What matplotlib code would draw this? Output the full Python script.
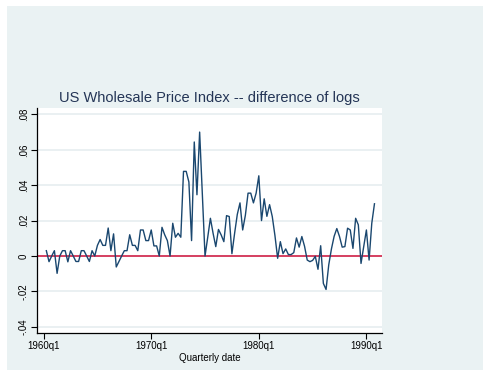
import numpy as np
import matplotlib
matplotlib.use("Agg")
import matplotlib.pyplot as plt
from matplotlib.patches import Rectangle

plt.rcParams['font.family'] = ['Liberation Sans', 'DejaVu Sans']

# D.ln_wpi, 1960q2 .. 1990q4 (quarter numbers with 1960q1 = 0)
quarter = np.arange(1, 124)
dln_wpi = [
    0.0030, -0.0032, 0.0000, 0.0030, -0.0098, 0.0000, 0.0030, 0.0030, -0.0033, 0.0030,
    0.0000, -0.0031, -0.0031, 0.0030, 0.0030, 0.0000, -0.0031, 0.0030, 0.0000, 0.0060,
    0.0093, 0.0060, 0.0060, 0.0158, 0.0030, 0.0125, -0.0062, -0.0031, 0.0000, 0.0030,
    0.0030, 0.0120, 0.0060, 0.0060, 0.0030, 0.0147, 0.0147, 0.0087, 0.0087, 0.0147,
    0.0057, 0.0057, 0.0000, 0.0162, 0.0120, 0.0087, 0.0000, 0.0185, 0.0106, 0.0128,
    0.0106, 0.0478, 0.0478, 0.0418, 0.0087, 0.0644, 0.0346, 0.0700, 0.0350, 0.0000,
    0.0105, 0.0213, 0.0128, 0.0053, 0.0150, 0.0119, 0.0081, 0.0228, 0.0223, 0.0013,
    0.0128, 0.0235, 0.0300, 0.0147, 0.0230, 0.0355, 0.0355, 0.0300, 0.0355, 0.0453,
    0.0200, 0.0323, 0.0224, 0.0290, 0.0223, 0.0115, -0.0013, 0.0081, 0.0013, 0.0040,
    0.0008, 0.0008, 0.0019, 0.0102, 0.0050, 0.0110, 0.0055, -0.0023, -0.0032, -0.0025,
    -0.0002, -0.0075, 0.0058, -0.0155, -0.0189, -0.0050, 0.0040, 0.0111, 0.0155, 0.0110,
    0.0050, 0.0053, 0.0157, 0.0147, 0.0043, 0.0213, 0.0176, -0.0042, 0.0053, 0.0147,
    -0.0023, 0.0185, 0.0295,
]

yticks = [-0.04, -0.02, 0, 0.02, 0.04, 0.06, 0.08]
ytick_labels = ['-.04', '-.02', '0', '.02', '.04', '.06', '.08']
xticks = [0, 40, 80, 120]
xtick_labels = ['1960q1', '1970q1', '1980q1', '1990q1']

bg = '#EAF2F3'
navy = '#1A476F'

fig = plt.figure(figsize=(4.83, 3.70), dpi=100)
fig.patch.set_facecolor('white')
fig.patches.append(Rectangle((7 / 483, -0.1), 1.1, 1.1 - 6 / 370, transform=fig.transFigure,
                             facecolor=bg, edgecolor='none', zorder=-5))

ax = fig.add_axes([37 / 483, 1 - 333 / 370, 345 / 483, 225 / 370])
ax.set_zorder(2)
ax.set_facecolor('white')

for yv in yticks:
    ax.axhline(yv, color='#E6EEF0', lw=1.2, zorder=1)
ax.axhline(0, color='#D0103A', lw=1.1, zorder=2)
ax.plot(quarter, dln_wpi, color=navy, lw=1.0, zorder=3)

ax.set_xlim(-2.47, 125.8)
ax.set_ylim(-0.0435, 0.0836)
ax.set_xticks(xticks)
ax.set_xticklabels(xtick_labels)
ax.set_yticks(yticks)
ax.set_yticklabels(ytick_labels, rotation=90, va='center')

for side in ('top', 'right'):
    ax.spines[side].set_visible(False)
for side in ('left', 'bottom'):
    ax.spines[side].set_color('black')
    ax.spines[side].set_linewidth(0.9)
ax.tick_params(axis='both', direction='out', length=4, width=0.8, labelsize=7,
               colors='black', pad=2)

ax.set_title('US Wholesale Price Index -- difference of logs', fontsize=10.5,
             color='#243556', pad=4)
ax.set_xlabel('Quarterly date', fontsize=7, labelpad=1)

fig.savefig('out.png', dpi=100, facecolor=fig.get_facecolor())
